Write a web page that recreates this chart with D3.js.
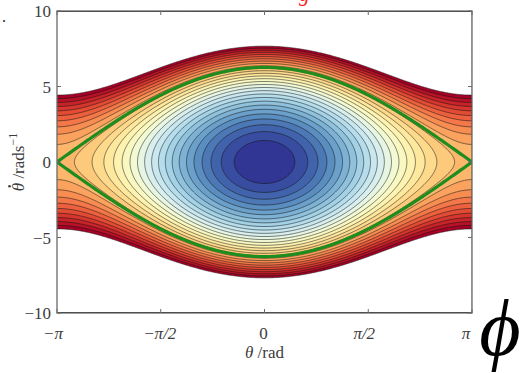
<!DOCTYPE html>
<html><head><meta charset="utf-8">
<script src="https://cdn.jsdelivr.net/npm/d3@7"></script>
<style>body{margin:0;background:#fff}svg{display:block}</style>
</head><body>
<script>
// ---- data ----
const gOverL = 9.81;                      // pendulum g/l
const thetaDomain = [-Math.PI, Math.PI];  // θ range
const omegaDomain = [-10, 10];            // θ̇ range
const levelMin = -9.81, levelMax = 19.62, levelCount = 30;   // filled contour levels
const xTicks = [-Math.PI, -Math.PI/2, 0, Math.PI/2, Math.PI];
const xTickLabels = ["−π", "−π/2", "0", "π/2", "π"];
const yTicks = [-10, -5, 0, 5, 10];
const yTickLabels = ["−10", "−5", "0", "5", "10"];

const W = 526, H = 373;
const L = 57, R = 472, T = 11, B = 313;
const svg = d3.select("body").append("svg").attr("width", W).attr("height", H);
const x = d3.scaleLinear().domain(thetaDomain).range([L, R]);
const y = d3.scaleLinear().domain(omegaDomain).range([B, T]);

const levels = d3.range(levelCount).map(i => levelMin + i * (levelMax - levelMin) / (levelCount - 1));
const energy = (th, w) => 0.5 * w * w - gOverL * Math.cos(th);

const nx = 420, ny = 420;
const dth = (thetaDomain[1] - thetaDomain[0]) / (nx - 1);
const dw = (omegaDomain[1] - omegaDomain[0]) / (ny - 1);
const values = new Float64Array(nx * ny);
for (let j = 0; j < ny; j++) for (let i = 0; i < nx; i++)
  values[j * nx + i] = energy(thetaDomain[0] + i * dth, omegaDomain[0] + j * dw);

const toPix = d3.geoTransform({point: function(cx, cy) {
  this.stream.point(x(thetaDomain[0] + (cx - 0.5) * dth), y(omegaDomain[0] + (cy - 0.5) * dw));
}});
const path = d3.geoPath(toPix);

svg.append("clipPath").attr("id", "clip").append("rect")
  .attr("x", L).attr("y", T).attr("width", R - L).attr("height", B - T);
const g = svg.append("g").attr("clip-path", "url(#clip)");

const contours = d3.contours().size([nx, ny]).thresholds(levels)(values);
const nb = levels.length - 1;
contours.forEach((c, i) => {
  const fill = i < nb ? d3.interpolateRdYlBu(1 - i / (nb - 1)) : "#ffffff";
  g.append("path").attr("d", path(c)).attr("fill", fill).attr("stroke", "none");
});
contours.forEach((c, i) => {
  if (i === 0) return;
  g.append("path").attr("d", path(c)).attr("fill", "none")
    .attr("stroke", "#141414").attr("stroke-width", 0.6).attr("stroke-opacity", 0.9);
});

// separatrix
const ths = d3.range(0, 401).map(k => thetaDomain[0] + k * (thetaDomain[1] - thetaDomain[0]) / 400);
const sep = d3.line().x(d => x(d[0])).y(d => y(d[1]));
[1, -1].forEach(s => {
  g.append("path").attr("d", sep(ths.map(t => [t, s * 2 * Math.sqrt(gOverL) * Math.cos(t / 2)])))
    .attr("fill", "none").attr("stroke", "#1e8c1e").attr("stroke-width", 3.2);
});

// frame and ticks
const axc = "#6a6a6a";
svg.append("rect").attr("x", L).attr("y", T).attr("width", R - L).attr("height", B - T)
  .attr("fill", "none").attr("stroke", axc).attr("stroke-width", 1.3);
xTicks.forEach(t => {
  svg.append("line").attr("x1", x(t)).attr("x2", x(t)).attr("y1", B).attr("y2", B - 4).attr("stroke", axc);
  svg.append("line").attr("x1", x(t)).attr("x2", x(t)).attr("y1", T).attr("y2", T + 4).attr("stroke", axc);
});
yTicks.forEach(t => {
  svg.append("line").attr("x1", L).attr("x2", L + 4).attr("y1", y(t)).attr("y2", y(t)).attr("stroke", axc);
  svg.append("line").attr("x1", R).attr("x2", R - 4).attr("y1", y(t)).attr("y2", y(t)).attr("stroke", axc);
});
const font = "Liberation Serif";
const tc = "#3c3c3c";
const xLabelShift = [-4, -1, -1, -4, -6];
xTicks.forEach((t, i) => {
  svg.append("text").attr("x", x(t)).attr("dx", xLabelShift[i]).attr("y", 339).attr("text-anchor", "middle")
    .attr("font-family", font).attr("font-size", 17).attr("fill", tc)
    .attr("font-style", i === 2 ? "normal" : "italic").text(xTickLabels[i]);
});
yTicks.forEach((t, i) => {
  svg.append("text").attr("x", 51).attr("y", y(t) + 6).attr("text-anchor", "end")
    .attr("font-family", font).attr("font-size", 17).attr("fill", tc).text(yTickLabels[i]);
});
const xl = svg.append("text").attr("x", x(0)).attr("y", 358).attr("text-anchor", "middle")
  .attr("font-family", font).attr("font-size", 17).attr("fill", tc);
xl.append("tspan").attr("font-style", "italic").text("θ");
xl.append("tspan").text(" /rad");
const ylg = svg.append("g").attr("transform", `translate(24,${y(0)}) rotate(-90)`);
const yl = ylg.append("text").attr("text-anchor", "middle").attr("font-family", font)
  .attr("font-size", 17).attr("fill", tc);
yl.append("tspan").attr("font-style", "italic").text("θ");
yl.append("tspan").text(" /rads");
yl.append("tspan").attr("font-size", 12).attr("dy", -7).text("−1");
const ext = yl.node().getExtentOfChar(0);
ylg.append("circle").attr("cx", ext.x + ext.width * 0.6).attr("cy", -14.5).attr("r", 1.3).attr("fill", tc);

// stray marks
svg.append("text").attr("x", 2).attr("y", 22).attr("font-family", font).attr("font-size", 16).attr("fill", "#222").text(".");
svg.append("text").attr("x", 299).attr("y", 1).attr("font-family", font).attr("font-size", 21)
  .attr("font-style", "italic").attr("fill", "#ff1a1a").text("g");
svg.append("text").attr("x", 500).attr("y", 355).attr("text-anchor", "middle").attr("font-family", font)
  .attr("font-size", 80).attr("font-style", "italic").attr("fill", "#000").text("ϕ");
</script>
</body></html>
